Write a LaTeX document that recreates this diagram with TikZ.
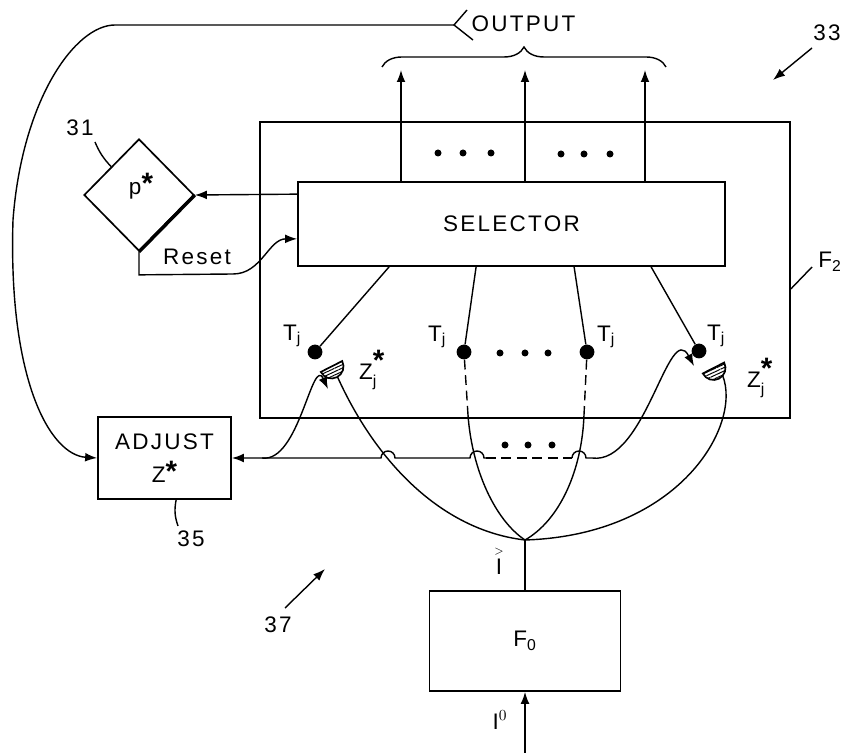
\documentclass[tikz,border=0pt]{standalone}
\usepackage{amsmath}
\usepackage{fontspec}
\setmainfont{Liberation Sans}[LetterSpace=10]
\usepackage{tikz}
\usetikzlibrary{positioning,arrows.meta,shapes.geometric,calc,patterns.meta,decorations.pathreplacing}
\newcommand{\bstar}{\raisebox{0.02em}{\fontsize{21}{21}\selectfont\bfseries *}}
\newcommand{\sstar}{\raisebox{-0.28em}{\fontsize{21}{21}\selectfont\bfseries *}}
\tikzset{
  blk/.style={draw, line width=1.2pt, inner sep=0pt, align=center, font=\fontsize{16}{23}\selectfont},
  wire/.style={line width=1pt},
  arr/.style={wire, -{Latex[length=3mm,width=2.2mm]}},
  tdot/.style={circle, fill, inner sep=0pt, minimum size=0.37cm},
  lbl/.style={font=\fontsize{16}{20}\selectfont, inner sep=1pt},
  dsh/.style={wire, dash pattern=on 7pt off 4pt},
  hatch/.style={line width=1.2pt, pattern={Lines[angle=25,distance=2.2pt,line width=0.7pt]}},
}

\begin{document}
\begin{tikzpicture}[x=0.025cm, y=-0.025cm]
    \useasboundingbox (0,0) rectangle (842,753);
    % blocks
    \node[blk, minimum width=13.25cm, minimum height=7.4cm] (ftwo) at (525,270) {};
    \node[blk, minimum width=10.675cm, minimum height=2.1cm] (sel) at (511.5,224) {SELECTOR};
    \node[blk, minimum width=3.325cm, minimum height=2.05cm] (adj) at (164.5,458) {ADJUST\\Z\bstar};
    \node[blk, minimum width=4.775cm, minimum height=2.5cm] (fzero) at (525,641) {$\text{F}_{\text{0}}$};
    \node[blk, diamond, minimum width=2.75cm, minimum height=2.8cm] (pstar) at (139,195) {};
    \draw[line width=2.4pt] (pstar.east) -- (pstar.south);
    \node[lbl] (plbl) at (141,186) {p\bstar};
    % outputs
    \foreach \i/\xo in {1/401,2/525,3/645}{
      \coordinate (o\i) at (\xo,70);
      \draw[arr] (sel.north -| o\i) -- (o\i);
    }
    \foreach \xd/\yd in {438/153,463/153,491/153,561/154,584/154,610/154}{\fill (\xd,\yd) circle (3.5);}
    \draw[wire, decorate, decoration={brace, amplitude=0.5cm}] (382,67) -- (666,67);
    \node[lbl, anchor=west] (outlbl) at (470,24) {OUTPUT};
    \draw[wire] (467,10) -- (454,25) coordinate (outv) -- (473,40);
    \draw[arr] (outv) -- (115,25) .. controls (75,25) and (22,100) .. (13,220)
      .. controls (8,380) and (50,455) .. (adj.west);
    % selector to p*
    \draw[arr] ($(sel.north west)+(0,13)$) -- (pstar.east);
    \draw[arr] (pstar.south) -- ++(0,23) -- (233,274) to[out=0,in=180] ($(sel.south west)+(0,-28)$);
    \node[lbl] (reset) at (197,257) {Reset};
    % T_j cells
    \node[tdot] (t1) at (315,352) {};
    \node[tdot] (t2) at (464,352) {};
    \node[tdot] (t3) at (587,352) {};
    \node[tdot] (t4) at (699,351) {};
    \foreach \t/\dx in {t1/92,t2/179,t3/277,t4/354}{\draw[wire] ($(sel.south west)+(\dx,0)$) -- (\t);}
    \foreach \t/\xl/\yl in {t1/292/336,t2/437/337,t3/606/337,t4/716/336}{\node[lbl] at (\xl,\yl) {$\text{T}_{\text{j}}$};}
    \foreach \xd in {500,525,548}{\fill (\xd,353) circle (3.5);}
    % Z_j* traces
    \coordinate (z1) at (331.5,366.5);
    \coordinate (z4) at (713.5,368);
    \foreach \c in {z1,z4}{\draw[hatch] (\c) ++(-27:12) arc (-27:153:12) -- cycle;}
    \node[lbl] (z1lbl) at (372,370) {$\text{Z}^{\text{\sstar}}_{\text{j}}$};
    \node[lbl] (z4lbl) at (760,378) {$\text{Z}^{\text{\sstar}}_{\text{j}}$};
    % paths down to F0
    \coordinate (jn) at (525,540);
    \draw[wire] (z1) ++(60:12) .. controls (375,460) and (440,530) .. (jn);
    \draw[wire] (z4) ++(40:12) .. controls (742,425) and (680,535) .. (jn);
    \draw[dsh] (t2) -- (468,415) coordinate (t2e);
    \draw[wire] (t2e) .. controls (472,470) and (495,520) .. (jn);
    \draw[dsh] (t3) -- (584,415) coordinate (t3e);
    \draw[wire] (t3e) .. controls (582,470) and (560,520) .. (jn);
    \draw[wire] (jn) -- (fzero.north);
    \node[lbl] (ivec) at (499,560) {$\overset{\scriptscriptstyle >}{\mathrm{I}}$};
    \coordinate (inp) at (525,753);
    \draw[arr] (inp) -- (fzero.south);
    \node[lbl] (izero) at (500,720) {$\mathrm{I}^{0}$};
    % adjust lines
    \coordinate (z1in) at (328,389);
    \coordinate (z4in) at (694,366);
    \draw[wire, {Latex[length=3mm,width=2.2mm]}-] (adj.east) -- (381,458) arc (180:360:7)
      -- (470,458) arc (180:360:7) -- (486,458);
    \draw[dsh] (486,458) -- (572,458);
    \draw[arr] (572,458) arc (180:360:7) -- (592,458) to[out=-8,in=118] (z4in);
    \draw[arr] (262,458) to[out=-8,in=115] (z1in);
    \foreach \xd in {505,528,552}{\fill (\xd,445) circle (3.5);}
    % reference numerals
    \node[lbl] (n31) at (80,128) {31};
    \draw[wire] (95,142) to[bend right=10] ($(pstar.west)!0.5!(pstar.north)$);
    \node[lbl] (n33) at (827,33) {33};
    \coordinate (a33) at (773,80);
    \draw[arr] (812,48) -- (a33);
    \node[lbl] (n35) at (191,539) {35};
    \draw[wire] ($(adj.south west)+(79,0)$) to[bend right=15] (178,526);
    \node[lbl] (n37) at (278,625) {37};
    \coordinate (a37) at (325,569);
    \draw[arr] (285,608) -- (a37);
    \node[lbl] (nf2) at (830,262) {$\text{F}_{\text{2}}$};
    \draw[wire] ($(ftwo.south east)+(0,-130)$) -- (812,267);
  \end{tikzpicture}
\end{document}
